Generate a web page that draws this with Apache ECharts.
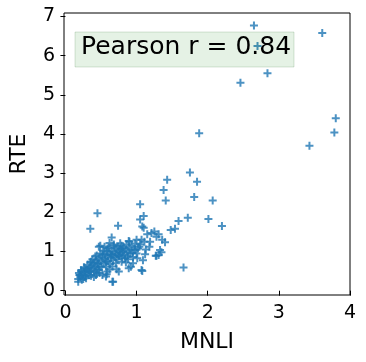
<!DOCTYPE html>
<html>
<head>
<meta charset="utf-8">
<script src="https://cdn.jsdelivr.net/npm/echarts@6/dist/echarts.min.js"></script>
<style>
  html, body { margin: 0; padding: 0; background: #fff; }
  #chart { width: 366px; height: 362px; }
</style>
</head>
<body>
<div id="chart"></div>
<script>
// per-model score differences
const mnli = [
  2.65, 3.61, 2.70, 2.84, 2.46, 3.80, 3.78, 3.43,
  1.88, 1.75, 1.43, 1.85, 1.38, 1.81, 1.41, 2.07, 1.05,
  0.45, 1.72, 2.01, 1.59, 1.05, 1.10, 2.20, 0.74, 0.35, 1.08, 1.54,
  1.21, 1.31, 1.15, 1.28, 1.36, 1.40, 0.65, 0.49, 0.90, 1.07, 1.19, 1.04, 0.98, 1.35, 1.31, 1.12,
  1.09, 1.27, 1.66, 1.08, 0.92, 0.95, 0.72, 0.67, 0.79, 0.58,
  1.10, 1.25, 1.48, 0.89, 1.00, 1.11, 0.77, 1.33, 0.47, 0.59, 0.68, 0.80, 0.94,
  0.42, 0.52, 0.64, 0.75, 0.84, 1.01, 1.28, 0.36, 0.45, 0.57, 0.71, 0.89, 1.07,
  0.27, 0.34, 0.47, 0.59, 0.75, 0.20, 0.29, 0.43, 0.57, 0.18, 0.66, 0.22,
  0.18, 0.19, 0.21, 0.22, 0.24, 0.25, 0.26, 0.27, 0.28, 0.29, 0.30, 0.31, 0.32, 0.33, 0.34, 0.35,
  0.36, 0.37, 0.38, 0.39, 0.40, 0.41, 0.42, 0.43, 0.44, 0.45, 0.46, 0.47, 0.48, 0.49, 0.50, 0.51,
  0.52, 0.53, 0.54, 0.55, 0.56, 0.57, 0.58, 0.59, 0.60, 0.61, 0.62, 0.63, 0.64, 0.65, 0.66, 0.67,
  0.68, 0.69, 0.70, 0.71, 0.72, 0.73, 0.74, 0.75, 0.76, 0.77, 0.78, 0.79, 0.80, 0.81, 0.82, 0.83,
  0.85, 0.86, 0.87, 0.88, 0.90, 0.91, 0.93, 0.95, 0.96, 0.98, 1.00, 1.02, 1.05, 1.13, 1.18,
  0.55, 0.62, 0.85, 0.88, 0.40, 0.48, 0.52, 0.62, 0.66, 0.20, 0.23, 0.27, 0.36, 0.44
];
const rte = [
  6.77, 6.58, 6.25, 5.55, 5.31, 4.40, 4.04, 3.70,
  4.02, 3.02, 2.83, 2.78, 2.57, 2.39, 2.30, 2.30, 2.21,
  1.98, 1.86, 1.83, 1.78, 1.82, 1.91, 1.65, 1.66, 1.58, 1.64, 1.58,
  1.47, 1.44, 1.44, 1.38, 1.30, 1.24, 1.36, 1.15, 1.25, 1.30, 1.25, 1.12, 1.04, 0.98, 0.91, 0.93,
  0.78, 0.89, 0.59, 0.50, 0.61, 0.70, 0.55, 0.23, 0.74, 0.42,
  1.61, 1.51, 1.55, 1.27, 1.30, 1.25, 1.21, 1.04, 1.12, 1.08, 1.15, 1.08, 0.96,
  0.87, 0.93, 0.91, 0.89, 0.83, 0.83, 0.89, 0.74, 0.70, 0.74, 0.70, 0.57, 0.53,
  0.57, 0.49, 0.53, 0.49, 0.49, 0.40, 0.32, 0.40, 0.36, 0.23, 0.23, 0.49,
  0.30, 0.45, 0.35, 0.52, 0.42, 0.30, 0.60, 0.48, 0.38, 0.55, 0.45, 0.66, 0.52, 0.40, 0.60, 0.72,
  0.50, 0.64, 0.80, 0.58, 0.70, 0.48, 0.62, 0.78, 0.90, 0.55, 0.68, 0.82, 0.62, 0.95, 0.75, 0.60,
  0.85, 1.02, 0.70, 0.92, 0.80, 0.62, 1.00, 0.88, 0.75, 1.10, 0.95, 0.68, 0.84, 1.02, 0.92, 0.78,
  1.18, 0.98, 0.86, 1.08, 0.94, 0.80, 1.12, 1.00, 0.90, 1.05, 0.96, 1.15, 0.85, 1.00, 1.10, 0.92,
  1.05, 1.18, 0.88, 1.00, 1.10, 0.95, 1.15, 0.86, 1.05, 1.20, 0.95, 1.08, 1.18, 1.05, 1.12,
  1.12, 1.22, 0.72, 0.80, 0.35, 0.45, 0.40, 0.55, 0.62, 0.40, 0.28, 0.35, 0.38, 0.45
];
const xTicks = [0, 1, 2, 3, 4];
const yTicks = [0, 1, 2, 3, 4, 5, 6, 7];
const pearsonLabel = 'Pearson r = 0.84';

const points = mnli.map((x, i) => [x, rte[i]]);

const FONT = 'DejaVu Sans';
const plusPath = 'path://M3,0h2v3h3v2h-3v3h-2v-3h-3v-2h3z';

const chart = echarts.init(document.getElementById('chart'), null, { renderer: 'canvas' });

chart.setOption({
  animation: false,
  backgroundColor: '#fff',
  grid: {
    left: 59, right: 16, top: 13, bottom: 67,
    show: true, borderColor: '#000', borderWidth: 1, backgroundColor: 'transparent',
  },
  xAxis: {
    type: 'value',
    min: -0.02, max: 4.0,
    name: 'MNLI', nameLocation: 'middle', nameGap: 36,
    nameTextStyle: { fontFamily: FONT, fontSize: 22, color: '#000' },
    splitLine: { show: false },
    axisLine: { show: false },
    axisTick: { show: true, length: 5, lineStyle: { color: '#000' }, customValues: xTicks },
    axisLabel: { fontFamily: FONT, fontSize: 19, color: '#000', margin: 9, customValues: xTicks },
  },
  yAxis: {
    type: 'value',
    min: -0.11, max: 7.09,
    name: 'RTE', nameLocation: 'middle', nameGap: 34,
    nameTextStyle: { fontFamily: FONT, fontSize: 22, color: '#000' },
    splitLine: { show: false },
    axisLine: { show: false },
    axisTick: { show: true, length: 5, lineStyle: { color: '#000' }, customValues: yTicks },
    axisLabel: { fontFamily: FONT, fontSize: 19, color: '#000', margin: 9, customValues: yTicks },
  },
  series: [
    {
      type: 'scatter',
      symbol: plusPath,
      symbolSize: 8,
      itemStyle: { color: '#1f77b4' },
      data: points,
    }
  ],
  graphic: [
    {
      type: 'rect',
      z: 100,
      shape: { x: 75, y: 32, width: 219, height: 35 },
      style: { fill: 'rgba(0,128,0,0.1)', stroke: 'rgba(0,80,0,0.15)', lineWidth: 1 },
    },
    {
      type: 'text',
      z: 101,
      left: 81, top: 35,
      style: { text: pearsonLabel, font: '25px "DejaVu Sans"', fill: '#000' },
    }
  ],
});
</script>
</body>
</html>
